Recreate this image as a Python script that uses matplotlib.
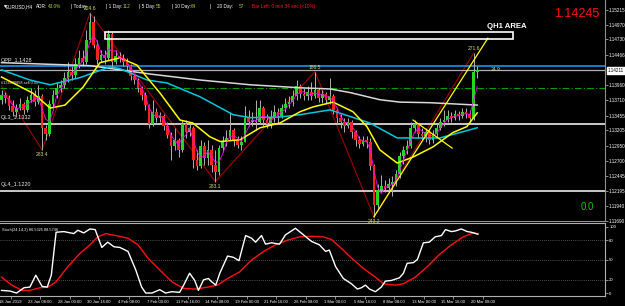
import numpy as np
import pandas as pd
import matplotlib
matplotlib.use('Agg')
import matplotlib.pyplot as plt
from matplotlib.patches import Rectangle
import matplotlib.transforms as mtransforms

plt.rcParams['font.family'] = ['Liberation Sans', 'DejaVu Sans']

# EURUSD candles (open = previous close)
first_open = 1.1372
closes = [
    1.1380, 1.1375, 1.1362, 1.1352, 1.1358, 1.1365, 1.1355, 1.1372, 1.1380, 1.1368,
    1.1378, 1.1325, 1.1315, 1.1365, 1.1380, 1.1392, 1.1397, 1.1409, 1.1419, 1.1414,
    1.1432, 1.1442, 1.1435, 1.1472, 1.1502, 1.1464, 1.1439, 1.1447, 1.1442, 1.1482,
    1.1435, 1.1445, 1.1442, 1.1435, 1.1429, 1.1412, 1.1405, 1.1392, 1.1380, 1.1363,
    1.1332, 1.1352, 1.1342, 1.1345, 1.1328, 1.1313, 1.1295, 1.1305, 1.1288, 1.1332,
    1.1318, 1.1325, 1.1271, 1.1261, 1.1295, 1.1275, 1.1288, 1.1263, 1.1251, 1.1291,
    1.1302, 1.1308, 1.1322, 1.1305, 1.1297, 1.1302, 1.1342, 1.1335, 1.1338, 1.1335,
    1.1358, 1.1338, 1.1332, 1.1342, 1.1352, 1.1345, 1.1358, 1.1365, 1.1368, 1.1378,
    1.1395, 1.1382, 1.1378, 1.1385, 1.1378, 1.1388, 1.1375, 1.1382, 1.1372, 1.1378,
    1.1355, 1.1342, 1.1335, 1.1328, 1.1335, 1.1318, 1.1305, 1.1298, 1.1305, 1.1302,
    1.1261, 1.1196, 1.1221, 1.1228, 1.1225, 1.1231, 1.1235, 1.1248, 1.1278, 1.1288,
    1.1295, 1.1325, 1.1332, 1.1315, 1.1312, 1.1318, 1.1305, 1.1315, 1.1325, 1.1335,
    1.1338, 1.1345, 1.1342, 1.1348, 1.1345, 1.1352, 1.1348, 1.1342, 1.1419, 1.1422,
]
highs = [
    1.1388, 1.1385, 1.1380, 1.1372, 1.1365, 1.1375, 1.1368, 1.1378, 1.1392, 1.1388,
    1.1397, 1.1382, 1.1330, 1.1372, 1.1388, 1.1402, 1.1405, 1.1419, 1.1435, 1.1429,
    1.1442, 1.1455, 1.1455, 1.1489, 1.1517, 1.1512, 1.1472, 1.1455, 1.1455, 1.1489,
    1.1486, 1.1455, 1.1452, 1.1449, 1.1442, 1.1432, 1.1415, 1.1409, 1.1395, 1.1385,
    1.1365, 1.1372, 1.1358, 1.1352, 1.1348, 1.1335, 1.1318, 1.1325, 1.1308, 1.1338,
    1.1338, 1.1335, 1.1328, 1.1288, 1.1305, 1.1302, 1.1305, 1.1297, 1.1288, 1.1297,
    1.1312, 1.1322, 1.1352, 1.1325, 1.1312, 1.1312, 1.1362, 1.1355, 1.1352, 1.1372,
    1.1372, 1.1362, 1.1348, 1.1355, 1.1363, 1.1358, 1.1365, 1.1375, 1.1378, 1.1388,
    1.1405, 1.1399, 1.1392, 1.1395, 1.1402, 1.1419, 1.1392, 1.1388, 1.1385, 1.1409,
    1.1382, 1.1358, 1.1348, 1.1342, 1.1342, 1.1338, 1.1322, 1.1312, 1.1312, 1.1312,
    1.1308, 1.1265, 1.1231, 1.1246, 1.1238, 1.1241, 1.1245, 1.1255, 1.1285, 1.1295,
    1.1305, 1.1335, 1.1338, 1.1332, 1.1325, 1.1325, 1.1322, 1.1322, 1.1332, 1.1342,
    1.1355, 1.1355, 1.1352, 1.1355, 1.1353, 1.1358, 1.1358, 1.1355, 1.1450, 1.1429,
]
lows = [
    1.1365, 1.1367, 1.1355, 1.1345, 1.1343, 1.1355, 1.1348, 1.1352, 1.1368, 1.1362,
    1.1365, 1.1288, 1.1305, 1.1312, 1.1355, 1.1375, 1.1385, 1.1392, 1.1402, 1.1405,
    1.1409, 1.1425, 1.1429, 1.1432, 1.1469, 1.1459, 1.1432, 1.1435, 1.1432, 1.1439,
    1.1425, 1.1431, 1.1435, 1.1429, 1.1422, 1.1405, 1.1399, 1.1385, 1.1372, 1.1355,
    1.1325, 1.1328, 1.1335, 1.1335, 1.1322, 1.1308, 1.1271, 1.1288, 1.1276, 1.1285,
    1.1308, 1.1312, 1.1258, 1.1255, 1.1258, 1.1263, 1.1263, 1.1251, 1.1235, 1.1246,
    1.1285, 1.1295, 1.1305, 1.1295, 1.1291, 1.1288, 1.1302, 1.1328, 1.1328, 1.1322,
    1.1332, 1.1328, 1.1325, 1.1325, 1.1335, 1.1332, 1.1342, 1.1352, 1.1358, 1.1362,
    1.1372, 1.1375, 1.1372, 1.1372, 1.1372, 1.1375, 1.1368, 1.1367, 1.1365, 1.1365,
    1.1348, 1.1332, 1.1325, 1.1318, 1.1325, 1.1308, 1.1295, 1.1291, 1.1295, 1.1291,
    1.1255, 1.1176, 1.1188, 1.1218, 1.1218, 1.1221, 1.1211, 1.1228, 1.1241, 1.1265,
    1.1281, 1.1291, 1.1318, 1.1308, 1.1305, 1.1302, 1.1298, 1.1300, 1.1308, 1.1322,
    1.1328, 1.1335, 1.1335, 1.1338, 1.1338, 1.1342, 1.1342, 1.1335, 1.1338, 1.1409,
]

# moving averages (bar index, price)
ma_white_x = [0, 24, 40.3, 53.8, 67.4, 81, 89.1, 94.5, 102.6, 108, 116.2, 129]
ma_white_y = [1.1434, 1.1429, 1.1415, 1.1405, 1.1397, 1.1392, 1.1390, 1.1384, 1.1372, 1.1368, 1.1367, 1.1363]
ma_cyan_x = [0, 7.7, 13.2, 21.3, 29.4, 32.1, 39.5, 44.9, 53.8, 62.8, 67.4, 75.5, 81, 89.1, 99.9, 107.3, 118.9, 129]
ma_cyan_y = [1.1422, 1.1405, 1.1397, 1.1409, 1.1427, 1.1424, 1.1405, 1.1400, 1.1377, 1.1347, 1.1342, 1.1343,
             1.1347, 1.1355, 1.1333, 1.1308, 1.1308, 1.1325]
ma_yellow_x = [0, 8.5, 13.2, 17.2, 22.1, 26.7, 32.1, 36.7, 39.5, 43, 48.4, 51.9, 56.5, 59.3, 64.7, 70.1,
               75.5, 81, 84.5, 89.9, 95.3, 99.1, 102.6, 107.3, 111.6, 117, 122.4, 126.2, 129]
ma_yellow_y = [1.1410, 1.1383, 1.1358, 1.1363, 1.1393, 1.1434, 1.1442, 1.1430, 1.1409, 1.1383, 1.1338, 1.1333,
               1.1310, 1.1302, 1.1305, 1.1325, 1.1333, 1.1352, 1.1360, 1.1368, 1.1352, 1.1327, 1.1288, 1.1266,
               1.1276, 1.1293, 1.1317, 1.1327, 1.1350]

# zigzag swings
zz_x = [0, 11, 24, 58, 85, 101, 128]
zz_y = [1.1395, 1.1288, 1.1517, 1.1235, 1.1419, 1.1176, 1.1450]
zz_text = ['', '283.4', '224.6', '283.1', '186.5', '243.2', '271.6']

# trend lines drawn on the chart
trend_a = ([101, 131.9], [1.1176, 1.1475])
trend_b = ([111.6, 122.2], [1.1338, 1.1291])

# levels
pp, l3, l4 = 1.1428, 1.1332, 1.1220
order_price = 1.1392
bid = 1.14211
area_x = (28.1, 138.7)
area_y = (1.1474, 1.1485)

price_ticks = [1.15215, 1.14970, 1.14730, 1.14466, 1.13960, 1.13710, 1.13455, 1.13205,
               1.12950, 1.12700, 1.12445, 1.12195, 1.11940, 1.11690]

# stochastic (24,14,2)
stoch_k_x = [0, 2.3, 4.1, 6.1, 7.7, 9.3, 11, 12.4, 13.5, 14.8, 16.9, 19.6, 20.7, 22.3, 24, 25.4, 27.2, 28.8,
             30.5, 32.1, 34.3, 36.4, 38, 39.1, 40.8, 42.9, 44.5, 46.2, 48.3, 49.4, 51, 52.4, 53.4, 54.8, 56.1,
             57, 58.1, 59.2, 61.3, 62.9, 64.4, 66.2, 67.8, 68.9, 70.5, 71.6, 73.2, 75.4, 77, 79.7, 81.9, 84.1,
             86.2, 87.9, 88.9, 90.6, 92.7, 94.9, 96.5, 97.6, 98.7, 99.8, 101.4, 103, 104.1, 105.7, 107.9, 109,
             110, 111.7, 112.8, 114.4, 116, 117.6, 119.3, 120.4, 122, 123.1, 124.7, 126.3, 127.4, 129.2]
stoch_k = [4, 3, 0, 8, 9, 27, 10, 9, 27, 92, 93, 90, 95, 91, 97, 96, 69, 77,
           70, 69, 63, 35, 9, 0, 0, 5, 0, 2, 1, 12, 30, 19, 4, 20, 22,
           17, 12, 30, 56, 54, 49, 87, 83, 77, 87, 74, 76, 74, 88, 98, 88, 78,
           73, 63, 65, 40, 22, 14, 6, 8, 12, 6, 2, 9, 18, 19, 23, 30,
           45, 46, 51, 76, 77, 85, 87, 96, 93, 94, 97, 93, 92, 89]
stoch_d_x = [0, 2.8, 5.6, 7.7, 10.4, 12.6, 14.8, 18, 21.3, 24, 26.1, 28.3, 31, 34.3, 37, 39.7, 42.9, 46.2,
             49.4, 52.7, 55.9, 58.6, 61.3, 64.6, 67.8, 71.1, 74.3, 77.6, 80.8, 84.1, 87.3, 89.5, 91.7, 94.9,
             98.2, 101.4, 103.6, 106.8, 109, 112.2, 115.5, 118.7, 122, 125.2, 127.9, 129.2]
stoch_d = [24, 12, 4, 4, 8, 9, 17, 40, 60, 73, 85, 90, 87, 83, 73, 53, 35, 17,
           7, 6, 9, 12, 22, 32, 50, 63, 73, 80, 85, 86, 85, 81, 70, 53,
           37, 24, 14, 12, 14, 24, 40, 58, 73, 85, 91, 90]

date_labels = ['18 Jan 2019', '23 Jan 08:00', '28 Jan 00:00', '30 Jan 16:00', '4 Feb 08:00', '7 Feb 00:00',
               '11 Feb 16:00', '14 Feb 08:00', '19 Feb 00:00', '21 Feb 16:00', '26 Feb 08:00', '1 Mar 00:00',
               '5 Mar 16:00', '8 Mar 08:00', '13 Mar 00:00', '15 Mar 16:00', '20 Mar 08:00']

W, H = 625, 306


def fx(x):
    return x / W


def fy(y):
    return 1 - y / H


fig = plt.figure(figsize=(W / 100, H / 100), dpi=100, facecolor='black')
ax = fig.add_axes([0, fy(221), fx(605), 221 / H], facecolor='black')
ax2 = fig.add_axes([0, fy(296), fx(605), 73 / H], facecolor='black')
xlim = (-0.41, 163.66)

# ---- candles
c = np.array(closes)
o = np.array([first_open] + closes[:-1])
idx = np.arange(len(c))
up = c >= o
ax.vlines(idx, lows, highs, color='#b0b0b0', lw=0.7, zorder=3)
ax.bar(idx, np.abs(c - o), bottom=np.minimum(o, c), width=0.72,
       color=np.where(up, '#22d822', '#ff2020'), edgecolor='none', zorder=4)

# ---- moving averages
ax.plot(ma_white_x, ma_white_y, color='#d8d8d8', lw=1.1, zorder=5)
ax.plot(ma_cyan_x, ma_cyan_y, color='#00c8dc', lw=1.1, zorder=5)
ax.plot(ma_yellow_x, ma_yellow_y, color='#ffff00', lw=1.1, zorder=5)
fast = pd.Series(closes).rolling(3, min_periods=1).mean()
ax.plot(idx, fast, color='#ff00ff', lw=0.6, zorder=6)

# ---- zigzag + labels
ax.plot(zz_x, zz_y, color='#a00000', lw=0.8, zorder=2)
for i, (x, y, t) in enumerate(zip(zz_x, zz_y, zz_text)):
    if not t:
        continue
    is_low = zz_y[i] < zz_y[i - 1]
    ax.annotate(t, (x, y), xytext=(0, -1.5 if is_low else 1.5), textcoords='offset points',
                ha='center', va='top' if is_low else 'bottom', fontsize=3.6,
                color='#d8d870', annotation_clip=False, zorder=8)
ax.annotate('24.9', (len(closes) - 1, closes[-1]), xytext=(13, 0), textcoords='offset points',
            ha='center', va='center', fontsize=3.6, color='#d8d870')

# trend lines
ax.plot(*trend_a, color='#ffff00', lw=0.9, zorder=6)
ax.plot(*trend_b, color='#ffff00', lw=0.9, zorder=6)

# ---- horizontal levels
ax.axhline(pp, color='#1ea0ff', lw=1.1, zorder=2)
ax.axhline(bid, color='#b0b0b0', lw=0.9, zorder=2)
ax.axhline(order_price, color='#00a000', lw=0.8, ls=(0, (6, 2, 1, 2)), zorder=2)
ax.axhline(l3, color='white', lw=1.1, zorder=2)
ax.axhline(l4, color='white', lw=1.1, zorder=2)
ax.add_patch(Rectangle((area_x[0], area_y[0]), area_x[1] - area_x[0], area_y[1] - area_y[0],
                       fill=False, edgecolor='white', lw=1.2, zorder=7))

trans = mtransforms.blended_transform_factory(ax.transAxes, ax.transData)
for txt, lvl in [('QPP_1.1428', pp), ('QL3_1.1332', l3), ('QL4_1.1220', l4)]:
    ax.annotate(txt, (0, lvl), xycoords=trans, xytext=(0.3, 2.5), textcoords='offset points',
                ha='left', va='bottom', fontsize=4.0, color='#e8e8e8')
ax.annotate('#134880858 sell 0.05', (0, order_price), xycoords=trans, xytext=(1, 2),
            textcoords='offset points', ha='left', va='bottom', fontsize=2.8, color='#e8e8e8')

# right price scale
ax.set_xlim(xlim)
ax.set_ylim(1.11694, 1.15389)
ax.yaxis.tick_right()
ax.set_yticks(price_ticks)
ax.set_yticklabels(['%.5f' % v for v in price_ticks])
ax.tick_params(axis='y', colors='#c0c0c0', labelcolor='white', labelsize=3.3, length=2, pad=1, width=0.5)
ax.set_xticks([])
for s in ['left', 'top']:
    ax.spines[s].set_visible(False)
for s in ['right', 'bottom']:
    ax.spines[s].set_color('#909090')
    ax.spines[s].set_linewidth(0.8)
ax.annotate('%.5f' % bid, (1, bid), xycoords=trans, xytext=(2, 0), textcoords='offset points',
            ha='left', va='center', fontsize=3.3, color='black',
            bbox=dict(boxstyle='square,pad=0.15', fc='white', ec='white'), annotation_clip=False)

# ---- stochastic panel
for lv in (20, 50, 80):
    ax2.axhline(lv, color='#909090', lw=0.5, ls=(0, (1, 2)))
ax2.plot(stoch_d_x, stoch_d, color='#ff1010', lw=1.0)
ax2.plot(stoch_k_x, stoch_k, color='white', lw=1.0)
ax2.set_xlim(xlim)
ax2.set_ylim(-4.5, 106)
ax2.yaxis.tick_right()
ax2.set_yticks([0, 20, 50, 80, 100])
ax2.set_yticklabels(['0', '20', '50', '80', '100'])
ax2.tick_params(axis='y', colors='#c0c0c0', labelcolor='white', labelsize=3.1, length=2, pad=1, width=0.5)
ax2.set_xticks(2.44 + 8 * np.arange(len(date_labels)))
ax2.set_xticklabels(date_labels)
ax2.tick_params(axis='x', colors='#c0c0c0', labelcolor='white', labelsize=3.0, length=2, pad=1.2, width=0.5)
ax2.spines['left'].set_visible(False)
for s in ['right', 'bottom', 'top']:
    ax2.spines[s].set_color('#b0b0b0')
    ax2.spines[s].set_linewidth(0.8)
ax2.text(0.004, 0.93, 'Stoch(24,14,2) 86.5325 88.5746', transform=ax2.transAxes,
         fontsize=2.8, color='white', va='top', ha='left')

# ---- header texts
header = [(2, '\u25bc', 'white'), (6, 'EURUSD,H4', 'white'), (36, 'ADR:', 'white'),
          (48, '43.0%', '#9acd32'), (71, '| Today', 'white'), (106, '| 1 Day:', 'white'),
          (123, '112', '#9acd32'), (139, '| 5 Day:', 'white'), (156, '55', '#9acd32'),
          (172, '| 10 Day:', 'white'), (191, '64', '#9acd32'), (210, '|', 'white'),
          (217, '20 Day:', 'white'), (239, '57', '#9acd32'),
          (252, 'Bar Left: 0 min 34 sec (<10%)', '#ff2020')]
for x, s, col in header:
    fig.text(fx(x), fy(6.5), s, fontsize=3.4, color=col, ha='left', va='center')

fig.text(fx(599), fy(14), '1.14245', fontsize=9, color='#ff1010', ha='right', va='center')
fig.text(fx(507), fy(27), 'QH1 AREA', fontsize=5.6, color='white', fontweight='bold',
         ha='center', va='center')
fig.text(fx(587), fy(207), '0.0', fontsize=7, color='#00c800', ha='center', va='center')

fig.savefig('out.png', dpi=100, facecolor='black')
